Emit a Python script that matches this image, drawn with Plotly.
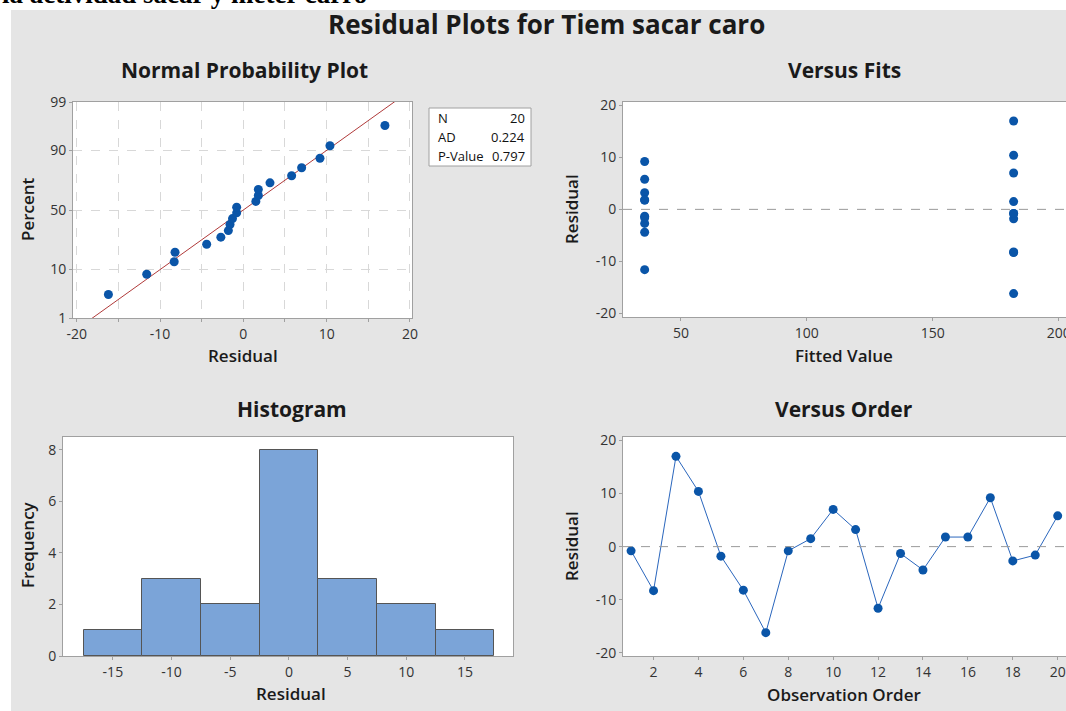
import plotly.graph_objects as go
from statistics import NormalDist
import numpy as np

# ---------------- data ----------------
observation = list(range(1, 21))
residuals = [-0.8, -8.3, 17.0, 10.4, -1.8, -8.2, -16.2, -0.8, 1.5, 7.0,
             3.2, -11.6, -1.3, -4.4, 1.8, 1.8, 9.2, -2.7, -1.6, 5.8]
fitted = [182.1] * 10 + [35.6] * 10
prob_ticks = [1, 10, 50, 90, 99]
npp_xticks = [-20, -15, -10, -5, 0, 5, 10, 15, 20]
fit_xticks = [50, 100, 150, 200]
res_yticks = [-20, -10, 0, 10, 20]
hist_xticks = [-15, -10, -5, 0, 5, 10, 15]
hist_yticks = [0, 2, 4, 6, 8]
order_xticks = [2, 4, 6, 8, 10, 12, 14, 16, 18, 20]
stats_labels = ["N", "AD", "P-Value"]
stats_values = ["20", "0.224", "0.797"]

W, H = 1066, 711
def fx(p): return p / W
def fy(p): return 1 - p / H

nd = NormalDist()
n = len(residuals)
srt = sorted(residuals)
zq = [nd.inv_cdf((i + 1 - 0.3) / (n + 0.4)) for i in range(n)]
mu = float(np.mean(residuals))
sd = float(np.std(residuals, ddof=1))
zline = [-3.0, 3.0]
xline = [mu + sd * z for z in zline]

BLUE = "#0a55a8"
FONT = "Open Sans"
TICKF = dict(family=FONT, size=14, color="#333333")
AXC = "#a0a0a0"

fig = go.Figure()
fig.add_trace(go.Scatter(x=xline, y=zline, mode="lines", line=dict(color="#b03a3a", width=1),
                         xaxis="x", yaxis="y", hoverinfo="skip"))
fig.add_trace(go.Scatter(x=srt, y=zq, mode="markers", marker=dict(color=BLUE, size=9),
                         xaxis="x", yaxis="y"))
fig.add_trace(go.Scatter(x=fitted, y=residuals, mode="markers", marker=dict(color=BLUE, size=9),
                         xaxis="x2", yaxis="y2"))
fig.add_trace(go.Histogram(x=residuals, xbins=dict(start=-17.5, end=17.5, size=5),
                           marker=dict(color="#7ba4d8", line=dict(color="#555555", width=1)),
                           xaxis="x3", yaxis="y3"))
fig.add_trace(go.Scatter(x=observation, y=residuals, mode="lines+markers",
                         line=dict(color="#2a66bd", width=1),
                         marker=dict(color=BLUE, size=9), xaxis="x4", yaxis="y4"))

def lab(v):
    return str(v)

def axstyle(**kw):
    d = dict(showline=True, linecolor=AXC, linewidth=1, ticks="outside", ticklen=3,
             tickcolor=AXC, tickfont=TICKF, showgrid=False, zeroline=False, automargin=False,
             ticklabeloverflow="allow")
    d.update(kw)
    return d

layout = dict(
    width=W, height=H, margin=dict(l=0, r=0, t=0, b=0, autoexpand=False),
    paper_bgcolor="#e5e5e5", plot_bgcolor="white", showlegend=False, bargap=0,
    xaxis=axstyle(domain=[fx(73), fx(412)], range=[-20.45, 20.25], anchor="y", mirror=True,
                  tickvals=npp_xticks, ticktext=[lab(v) if v % 10 == 0 else "" for v in npp_xticks],
                  showgrid=True, gridcolor="#d8d8d8", griddash="dash"),
    yaxis=axstyle(domain=[fy(318), fy(102)], range=[nd.inv_cdf(0.01), nd.inv_cdf(0.99)], anchor="x",
                  mirror=True, tickvals=[nd.inv_cdf(p / 100) for p in prob_ticks],
                  ticktext=[lab(p) for p in prob_ticks],
                  showgrid=True, gridcolor="#d8d8d8", griddash="dash"),
    xaxis2=axstyle(domain=[fx(623), 1], range=[27, 202.9], anchor="y2", mirror=True,
                   tickvals=fit_xticks, ticktext=[lab(v) for v in fit_xticks]),
    yaxis2=axstyle(domain=[fy(317), fy(102)], range=[-20.7, 20.65], anchor="x2",
                   tickvals=res_yticks, ticktext=[lab(v) for v in res_yticks]),
    xaxis3=axstyle(domain=[fx(63), fx(513)], range=[-19.25, 19.1], anchor="y3", mirror=True,
                   tickvals=hist_xticks, ticktext=[lab(v) for v in hist_xticks]),
    yaxis3=axstyle(domain=[fy(656), fy(437)], range=[0, 8.5], anchor="x3", mirror=True,
                   tickvals=hist_yticks, ticktext=[lab(v) for v in hist_yticks]),
    xaxis4=axstyle(domain=[fx(623), 1], range=[0.64, 20.37], anchor="y4", mirror=True,
                   tickvals=order_xticks, ticktext=[lab(v) for v in order_xticks]),
    yaxis4=axstyle(domain=[fy(656), fy(437)], range=[-20.6, 20.64], anchor="x4",
                   tickvals=res_yticks, ticktext=[lab(v) for v in res_yticks]),
)
fig.update_layout(**layout)

shapes = [
    dict(type="rect", xref="paper", yref="paper", x0=0, x1=1, y0=fy(10), y1=1,
         fillcolor="white", line=dict(width=0), layer="below"),
    dict(type="rect", xref="paper", yref="paper", x0=0, x1=fx(11), y0=0, y1=1,
         fillcolor="white", line=dict(width=0), layer="below"),
    dict(type="line", xref="x2 domain", yref="y2", x0=0, x1=1, y0=0, y1=0,
         line=dict(color="#9a9a9a", width=1, dash="dash")),
    dict(type="line", xref="x4 domain", yref="y4", x0=0, x1=1, y0=0, y1=0,
         line=dict(color="#9a9a9a", width=1, dash="dash")),
    dict(type="rect", xref="paper", yref="paper", x0=fx(429), x1=fx(531), y0=fy(166), y1=fy(108),
         fillcolor="white", line=dict(color="#a0a0a0", width=1)),
]
fig.update_layout(shapes=shapes)

ann = []
def txt(t, x, y, size, bold=False, angle=0, xanchor="center", weight=None, color="#1a1a1a"):
    f = dict(family=FONT, size=size, color=color)
    if weight is not None:
        f["weight"] = weight
    elif bold:
        f["weight"] = "bold"
    ann.append(dict(text=t, x=fx(x), y=fy(y), xref="paper", yref="paper", showarrow=False,
                    xanchor=xanchor, yanchor="middle", textangle=angle, font=f))

# clipped caption at the very top
ann.append(dict(text="la actividad sacar y meter carro", x=0, y=fy(-6), xref="paper", yref="paper",
                showarrow=False, xanchor="left", yanchor="middle",
                font=dict(family="Liberation Serif", size=27, color="black", weight="bold")))
txt("Residual Plots for Tiem sacar caro", 546.5, 24, 26, bold=True)
txt("Normal Probability Plot", 244, 70, 21, bold=True)
txt("Versus Fits", 844, 70, 21, bold=True)
txt("Histogram", 292, 409, 21, bold=True)
txt("Versus Order", 844, 409, 21, bold=True)
txt("Residual", 243, 355, 17, weight=600)
txt("Percent", 27, 209, 17, weight=600, angle=-90)
txt("Fitted Value", 843.5, 355, 17, weight=600)
txt("Residual", 571, 209, 17, weight=600, angle=-90)
txt("Frequency", 27, 545, 17, weight=600, angle=-90)
txt("Residual", 291, 693, 17, weight=600)
txt("Observation Order", 843.5, 694, 17, weight=600)
txt("Residual", 571, 546, 17, weight=600, angle=-90)
rows = [117.5, 137, 156]
for lb, val, yy in zip(stats_labels, stats_values, rows):
    txt(lb, 436, yy, 13, xanchor="left", color="#111111")
    ann.append(dict(text=val, x=fx(527), y=fy(yy), xref="paper", yref="paper", showarrow=False,
                    xanchor="right", yanchor="middle", font=dict(family=FONT, size=13, color="#111111")))
fig.update_layout(annotations=ann)

fig.write_html("out.html", config={"displayModeBar": False},
               post_script="document.body.style.margin='0px';document.body.style.overflow='hidden';")
